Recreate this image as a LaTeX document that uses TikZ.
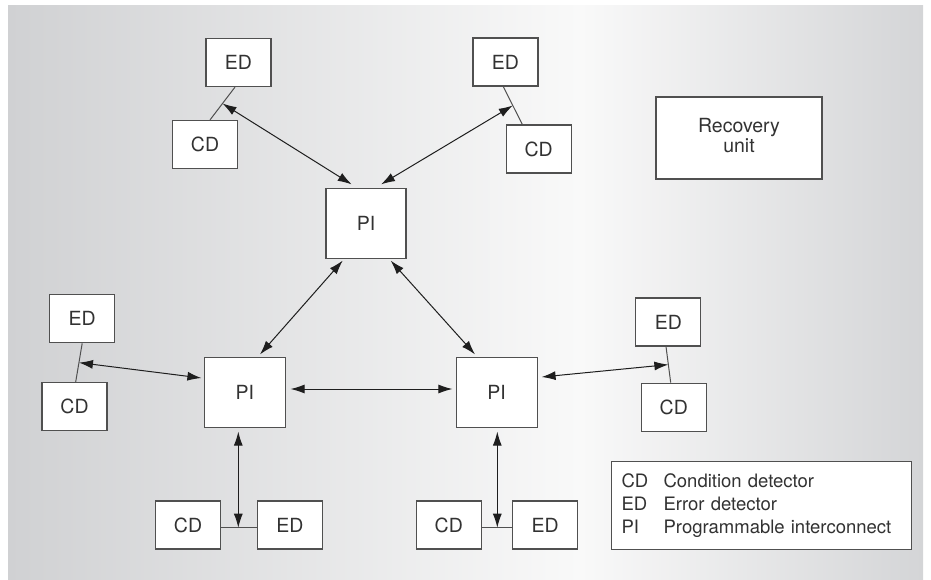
\documentclass[tikz,border=0pt]{standalone}
\usepackage{fontspec}
\setmainfont{TeX Gyre Heros}
\usetikzlibrary{calc,arrows.meta}
\definecolor{bgL}{RGB}{208,209,211}
\definecolor{bgM}{RGB}{249,249,249}
\definecolor{bgR}{RGB}{212,213,215}
\definecolor{boxline}{RGB}{80,80,80}
\definecolor{txt}{RGB}{50,50,50}
\definecolor{arr}{RGB}{30,30,30}
\begin{document}
\begin{tikzpicture}[x=1pt,y=-1pt,
  box/.style={draw=boxline,line width=1.2pt,fill=white,inner sep=0pt,text=txt,font=\fontsize{19.5}{22}\selectfont},
  small/.style={box,minimum width=65pt,minimum height=48pt},
  pibox/.style={box,minimum width=81pt,minimum height=70pt},
  link/.style={draw=boxline,line width=1pt},
  biarrow/.style={draw=arr,line width=1pt,{Latex[length=14pt,width=9pt]}-{Latex[length=14pt,width=9pt]}}]
\useasboundingbox (0,0) rectangle (931,579);
\shade[left color=bgL,right color=bgM] (8,5) rectangle (580,579);
\shade[left color=bgM,right color=bgR] (580,5) rectangle (923,579);

% nodes
\node[small] (ed1) at (238.5,62.5) {ED};
\node[small] (cd1) at (205,144.5) {CD};
\node[small] (ed2) at (505.5,62) {ED};
\node[small] (cd2) at (538.7,149) {CD};
\node[box,minimum width=166pt,minimum height=82pt,align=center] (ru) at (739,138) {\raisebox{7pt}{\begin{tabular}{@{}c@{}}Recovery\\[-2pt]unit\end{tabular}}};
\node[box,minimum width=80pt,minimum height=70pt] (pit) at (366,223.3) {PI};
\node[pibox] (pil) at (244.8,392.7) {PI};
\node[pibox] (pir) at (496.7,392.7) {PI};
\node[small] (edl) at (82.2,318.7) {ED};
\node[small] (cdl) at (74.5,406.5) {CD};
\node[small] (edr) at (668.3,322) {ED};
\node[small] (cdr) at (673.8,407.2) {CD};
\node[small] (cdb1) at (188,525) {CD};
\node[small] (edb1) at (290,525) {ED};
\node[small] (cdb2) at (448.8,525) {CD};
\node[small] (edb2) at (545.2,525) {ED};
\node[box,minimum width=294pt,minimum height=88pt,anchor=north west,font=\fontsize{18.5}{23}\selectfont,align=left,text width=280pt,inner xsep=10pt] (leg) at (611,461)
  {\makebox[42pt][l]{CD}Condition detector\\\makebox[42pt][l]{ED}Error detector\\\makebox[42pt][l]{PI}Programmable interconnect};

% ED-CD links
\draw[link] ($(ed1.south)+(-3.5,0)$) -- coordinate[pos=0.5] (m1) ($(cd1.north)+(5,0)$);
\draw[link] ($(ed2.south)+(-2.2,0)$) -- coordinate[pos=0.5] (m2) ($(cd2.north)+(-16.4,0)$);
\draw[link] ($(edl.south)+(0,0)$) -- coordinate[pos=0.5] (ml) ($(cdl.north)+(1.2,0)$);
\draw[link] ($(edr.south)+(-2.3,0)$) -- coordinate[pos=0.5] (mr) ($(cdr.north)+(-3.1,0)$);
\draw[link] ($(cdb1.east)+(0,2.7)$) coordinate (b1) -- ($(edb1.west)+(0,2.7)$);
\draw[link] ($(cdb2.east)+(0,2.7)$) coordinate (b2) -- ($(edb2.west)+(0,2.7)$);

% arrows
\draw[biarrow] (m1) -- ($(pit.north)+(-14.3,-3.3)$);
\draw[biarrow] (m2) -- ($(pit.north)+(15,-3.3)$);
\draw[biarrow] ($(pit.south)+(-23.3,1.7)$) -- ($(pil.north)+(15.2,-2.7)$);
\draw[biarrow] ($(pit.south)+(24.7,1.7)$) -- ($(pir.north)+(-21.7,-2.7)$);
\draw[biarrow] ($(pil.east)+(4.7,-3.7)$) -- ($(pir.west)+(-3.2,-3.7)$);
\draw[biarrow] (ml) -- ($(pil.west)+(-2.3,-14.7)$);
\draw[biarrow] (mr) -- ($(pir.east)+(3.8,-15.7)$);
\coordinate (a8) at ($(pil.south)+(-6.5,3.3)$);
\draw[biarrow] (a8) -- (a8 |- b1);
\coordinate (a9) at ($(pir.south)+(0.6,3.3)$);
\draw[biarrow] (a9) -- (a9 |- b2);
\end{tikzpicture}
\end{document}
